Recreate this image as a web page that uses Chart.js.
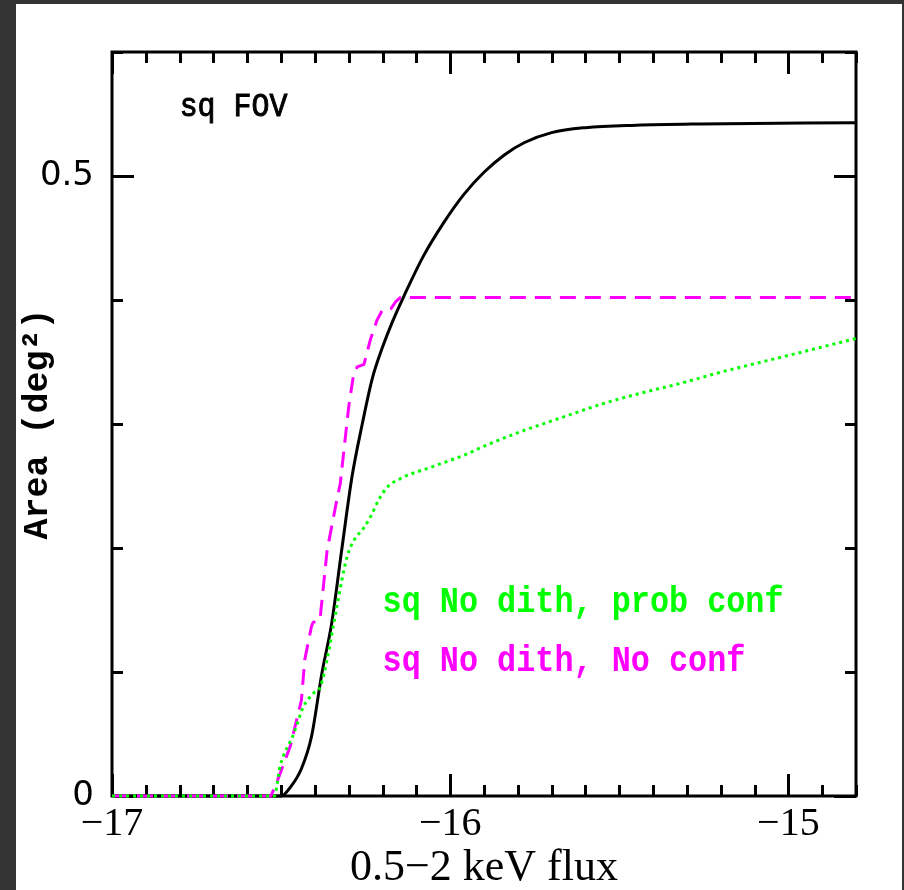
<!DOCTYPE html>
<html><head><meta charset="utf-8">
<script src="https://cdn.jsdelivr.net/npm/chart.js@4.4.1/dist/chart.umd.min.js"></script>
<style>
html,body{margin:0;padding:0;background:#333;width:904px;height:890px;overflow:hidden}
#wrap{position:absolute;left:16px;top:4px;width:886px;height:886px;background:#fff}
canvas{display:block}
</style></head><body>
<div id="wrap"><canvas id="c" width="886" height="886"></canvas></div>
<script>
// ---- data ----
const fluxFOV = [-17.0,-16.50,-16.47,-16.44,-16.41,-16.38,-16.35,-16.32,-16.29,-16.26,-16.23,-16.20,-16.17,-16.137,-16.08,-16.02,-15.96,-15.90,-15.84,-15.78,-15.70,-15.60,-15.45,-15.26,-14.8];
const areaFOV = [0,0,0.008,0.022,0.048,0.098,0.14,0.20,0.258,0.30,0.337,0.362,0.383,0.403,0.435,0.462,0.485,0.503,0.517,0.527,0.535,0.539,0.541,0.542,0.543];

const fluxNoConf = [-17.0,-16.53,-16.51,-16.473,-16.44,-16.43,-16.41,-16.405,-16.385,-16.364,-16.335,-16.325,-16.30,-16.285,-16.275,-16.255,-16.236,-16.216,-16.20,-16.175,-16.16,-16.147,-14.8];
const areaNoConf = [0,0,0.013,0.04,0.077,0.11,0.137,0.14,0.142,0.198,0.239,0.252,0.314,0.341,0.346,0.348,0.368,0.384,0.392,0.393,0.399,0.402,0.402];

const fluxProbConf = [-17.0,-16.52,-16.503,-16.463,-16.434,-16.404,-16.384,-16.364,-16.335,-16.305,-16.285,-16.256,-16.236,-16.211,-16.186,-16.147,-16.048,-15.949,-15.909,-15.79,-15.672,-15.553,-15.435,-15.316,-15.197,-15.079,-14.96,-14.80];
const areaProbConf = [0,0,0.024,0.05,0.072,0.083,0.088,0.11,0.153,0.193,0.206,0.216,0.225,0.239,0.249,0.256,0.266,0.276,0.281,0.294,0.305,0.316,0.325,0.333,0.342,0.350,0.358,0.369];

const xTickLabels = [-17,-16,-15];
const yTickLabels = [0,0.5];
const xMinorStep = 0.1;
const yMinorStep = 0.1;
const seriesNames = ['sq FOV','sq No dith, prob conf','sq No dith, No conf'];

// ---- build ----
const pts = (xs, ys) => xs.map((v,i)=>({x:v,y:ys[i]}));
const fmt = v => v < 0 ? '\u2212' + Math.abs(v) : String(v);

function squeezedText(ctx, text, px, py, font, sx, strokeW){
  ctx.save();
  ctx.font = font;
  ctx.translate(px, py);
  ctx.scale(sx, 1);
  ctx.fillText(text, 0, 0);
  if (strokeW){ ctx.lineWidth = strokeW; ctx.strokeStyle = ctx.fillStyle; ctx.strokeText(text, 0, 0); }
  ctx.restore();
}

const frameTicks = {
  id:'frameTicks',
  beforeDatasetsDraw(chart){
    const {ctx, chartArea:a, scales:{x,y}} = chart;
    ctx.save();
    ctx.strokeStyle='#000'; ctx.lineWidth=3; ctx.lineCap='butt';
    ctx.beginPath();
    const nx = Math.round((x.max - x.min)/xMinorStep);
    for (let i=0;i<=nx;i++){
      const v = x.min + i*xMinorStep;
      const major = xTickLabels.some(t=>Math.abs(t-v)<1e-6);
      const L = major?22:11;
      const px = Math.round(x.getPixelForValue(v))+0.5;
      ctx.moveTo(px,a.bottom); ctx.lineTo(px,a.bottom-L);
      ctx.moveTo(px,a.top); ctx.lineTo(px,a.top+L);
    }
    const ny = Math.round((y.max - y.min)/yMinorStep);
    for (let j=0;j<=ny;j++){
      const v = y.min + j*yMinorStep;
      const major = yTickLabels.some(t=>Math.abs(t-v)<1e-6);
      const L = major?22:11;
      const py = Math.round(y.getPixelForValue(v))+0.5;
      ctx.moveTo(a.left,py); ctx.lineTo(a.left+L,py);
      ctx.moveTo(a.right,py); ctx.lineTo(a.right-L,py);
    }
    ctx.stroke();
    ctx.strokeRect(a.left,a.top,a.right-a.left,a.bottom-a.top);
    ctx.restore();
  },
  afterDatasetsDraw(chart){
    const {ctx, scales:{x,y}} = chart;
    ctx.save();
    ctx.textBaseline='middle'; ctx.textAlign='left';
    ctx.fillStyle='#000';
    squeezedText(ctx, seriesNames[0], x.getPixelForValue(-16.8), y.getPixelForValue(0.556), '34px "Liberation Mono"', 0.88, 1);
    ctx.fillStyle='#00ff00';
    squeezedText(ctx, seriesNames[1], x.getPixelForValue(-16.2), y.getPixelForValue(0.156), 'bold 37px "Liberation Mono"', 0.86);
    ctx.fillStyle='#ff00ff';
    squeezedText(ctx, seriesNames[2], x.getPixelForValue(-16.2), y.getPixelForValue(0.108), 'bold 37px "Liberation Mono"', 0.86);
    ctx.restore();
  }
};

new Chart(document.getElementById('c'), {
  type:'scatter',
  data:{ datasets:[
    {label:seriesNames[0], data:pts(fluxFOV,areaFOV), showLine:true, borderColor:'#000', borderWidth:3, pointRadius:0, cubicInterpolationMode:'monotone', clip:false, order:3},
    {label:seriesNames[2], data:pts(fluxNoConf,areaNoConf), showLine:true, borderColor:'#ff00ff', borderWidth:3, borderDash:[16,9], pointRadius:0, clip:false, order:2},
    {label:seriesNames[1], data:pts(fluxProbConf,areaProbConf), showLine:true, borderColor:'#00ff00', borderWidth:3, borderDash:[3,4], pointRadius:0, cubicInterpolationMode:'monotone', clip:false, order:1}
  ]},
  options:{
    responsive:false, animation:false, devicePixelRatio:1,
    layout:{padding:{left:0,right:46,top:48,bottom:0}},
    plugins:{legend:{display:false}, tooltip:{enabled:false}},
    scales:{
      x:{type:'linear', min:-17, max:-14.8,
         grid:{display:false, drawTicks:false}, border:{display:false},
         afterBuildTicks:s=>{s.ticks = xTickLabels.map(v=>({value:v}));},
         afterFit:s=>{s.height=94;},
         ticks:{color:'#000', font:{family:'"Liberation Serif"', size:40}, padding:4, maxRotation:0, autoSkip:false, callback:v=>fmt(v)},
         title:{display:true, text:'0.5\u22122 keV flux', color:'#000', font:{family:'"Liberation Serif"', size:44, lineHeight:1}, padding:{top:0,bottom:0}}
      },
      y:{type:'linear', min:0, max:0.6,
         grid:{display:false, drawTicks:false}, border:{display:false},
         afterBuildTicks:s=>{s.ticks = yTickLabels.map(v=>({value:v}));},
         afterFit:s=>{s.width=96;},
         ticks:{color:'#000', font:{family:'"DejaVu Sans"', size:34}, padding:18, autoSkip:false, callback:v=>fmt(v)},
         title:{display:true, text:'Area (deg\u00b2)', color:'#000', font:{family:'"Liberation Mono"', size:35, weight:'bold', lineHeight:1.2}, padding:{top:1,bottom:0}}
      }
    }
  },
  plugins:[frameTicks]
});
</script>
</body></html>
